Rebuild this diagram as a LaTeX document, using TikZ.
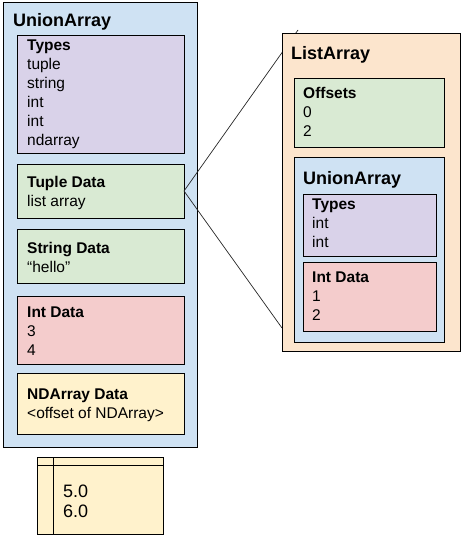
\documentclass[tikz,border=0pt]{standalone}
\usepackage{fontspec}
\setmainfont{Liberation Sans}
\definecolor{ublue}{HTML}{CFE2F3}
\definecolor{upurple}{HTML}{D9D2E9}
\definecolor{ugreen}{HTML}{D9EAD3}
\definecolor{ured}{HTML}{F4CCCC}
\definecolor{uyellow}{HTML}{FFF2CC}
\definecolor{uorange}{HTML}{FCE5CD}
\tikzset{
  box/.style={draw=black, line width=0.9pt, fill=#1, anchor=north west, inner sep=0pt, outer sep=0pt},
  lbl/.style={anchor=base west, inner sep=0pt, font=\fontsize{15.5}{19}\selectfont},
  hdr/.style={anchor=base west, inner sep=0pt, font=\fontsize{15.5}{19}\selectfont\bfseries},
  ttl/.style={anchor=base west, inner sep=0pt, font=\fontsize{18}{22}\selectfont\bfseries},
  big/.style={anchor=base west, inner sep=0pt, font=\fontsize{18}{22}\selectfont},
  conn/.style={draw=black!85, line width=0.7pt},
  rule/.style={draw=black, line width=0.9pt}
}
\begin{document}
\begin{tikzpicture}[x=1pt, y=-1pt]
\useasboundingbox (0,0) rectangle (466,537);
% outer UnionArray
\node[box=ublue, minimum width=194, minimum height=445] (ua) at (3,2) {};
\node[ttl] (uaT) at (13,27) {UnionArray};
\node[box=upurple, minimum width=167, minimum height=118] (types) at (17,35) {};
\node[hdr] (typesH) at (27,51) {Types};
\node[lbl] (t1) at (27,70) {tuple};
\node[lbl] (t2) at (27,89) {string};
\node[lbl] (t3) at (27,108) {int};
\node[lbl] (t4) at (27,127) {int};
\node[lbl] (t5) at (27,146) {ndarray};
\node[box=ugreen, minimum width=167, minimum height=54] (tuple) at (17,164) {};
\node[hdr] (tupleH) at (27,188) {Tuple Data};
\node[lbl] (tupleV) at (27,207) {list array};
\node[box=ugreen, minimum width=167, minimum height=54] (str) at (17,229) {};
\node[hdr] (strH) at (27,253) {String Data};
\node[lbl] (strV) at (27,272) {“hello”};
\node[box=ured, minimum width=167, minimum height=68] (int) at (17,296) {};
\node[hdr] (intH) at (27,317) {Int Data};
\node[lbl] (i1) at (27,336) {3};
\node[lbl] (i2) at (27,355) {4};
\node[box=uyellow, minimum width=167, minimum height=61] (nd) at (17,373) {};
\node[hdr] (ndH) at (27,399) {NDArray Data};
\node[lbl] (ndV) at (27,418) {<offset of NDArray>};
% table
\node[box=uyellow, minimum width=126, minimum height=77] (tab) at (37,457) {};
\coordinate (vtop) at (53,457);
\coordinate (vbot) at (53,534);
\coordinate (hl) at (37,465);
\coordinate (hr) at (163,465);
\draw[rule] (vtop) -- (vbot);
\draw[rule] (hl) -- (hr);
\node[big] (v1) at (63,497) {5.0};
\node[big] (v2) at (63,517) {6.0};
% connectors
\coordinate (topend) at (298,30);
\coordinate (botend) at (282,328);
\draw[conn] (tuple.east) -- (topend);
\draw[conn] (tuple.east) -- (botend);
% ListArray
\node[box=uorange, minimum width=178, minimum height=318] (la) at (282,33) {};
\node[ttl] (laT) at (291,60) {ListArray};
\node[box=ugreen, minimum width=150, minimum height=69] (off) at (294,78) {};
\node[hdr] (offH) at (303,99) {Offsets};
\node[lbl] (o1) at (303,118) {0};
\node[lbl] (o2) at (303,137) {2};
\node[box=ublue, minimum width=150, minimum height=185] (ua2) at (294,157) {};
\node[ttl] (ua2T) at (303,185) {UnionArray};
\node[box=upurple, minimum width=133, minimum height=62] (types2) at (303,194) {};
\node[hdr] (types2H) at (312,209) {Types};
\node[lbl] (u1) at (312,228) {int};
\node[lbl] (u2) at (312,247) {int};
\node[box=ured, minimum width=133, minimum height=69] (int2) at (303,262) {};
\node[hdr] (int2H) at (312,282) {Int Data};
\node[lbl] (j1) at (312,301) {1};
\node[lbl] (j2) at (312,320) {2};
\end{tikzpicture}
\end{document}
